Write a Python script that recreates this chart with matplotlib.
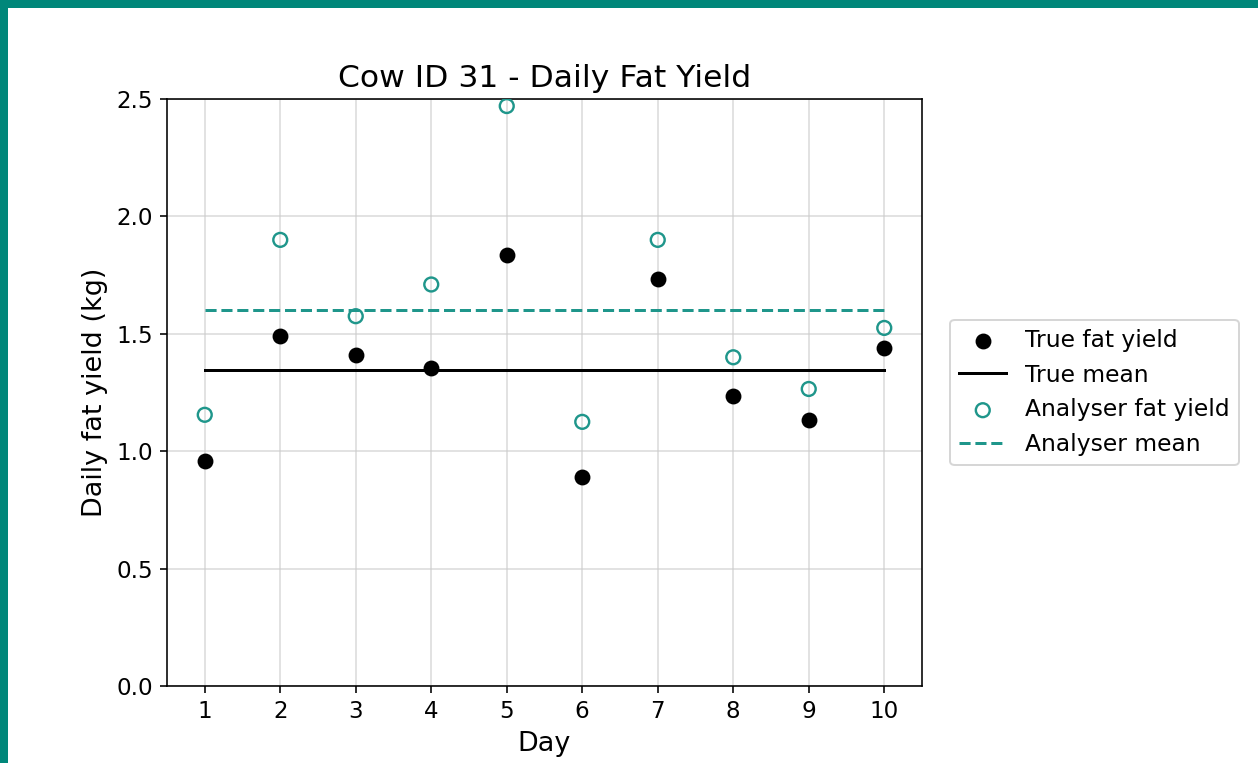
import numpy as np
import matplotlib.pyplot as plt
from matplotlib.patches import Rectangle

days = np.arange(1, 11)
true_fat = [0.958, 1.49, 1.41, 1.354, 1.836, 0.89, 1.733, 1.235, 1.133, 1.44]
analyser_fat = [1.155, 1.90, 1.575, 1.71, 2.47, 1.125, 1.90, 1.40, 1.265, 1.525]

true_mean = np.mean(true_fat)
analyser_mean = np.mean(analyser_fat)

teal = '#1f968b'

fig = plt.figure(figsize=(1258 / 144, 763 / 144), dpi=144)
ax = fig.add_axes([167 / 1258, 1 - 686 / 763, (922 - 167) / 1258, (686 - 99) / 763])

ax.scatter(days, true_fat, color='black', s=48, label='True fat yield', zorder=3)
ax.plot([days[0], days[-1]], [true_mean, true_mean], color='black', label='True mean')
ax.scatter(days, analyser_fat, facecolors='none', edgecolors=teal, s=48,
           linewidths=1.2, label='Analyser fat yield', zorder=3)
ax.plot([days[0], days[-1]], [analyser_mean, analyser_mean], color=teal,
        linestyle='--', label='Analyser mean')

ax.set_xlim(0.5, 10.5)
ax.set_ylim(0, 2.5)
ax.set_xticks(days)
ax.set_yticks([0, 0.5, 1.0, 1.5, 2.0, 2.5])
ax.tick_params(labelsize=11.5)
ax.grid(True, color='#cccccc', alpha=0.7, linewidth=0.8)
ax.set_axisbelow(True)

ax.set_title('Cow ID 31 - Daily Fat Yield', fontsize=15.7)
ax.set_xlabel('Day', fontsize=13.5)
ax.set_ylabel('Daily fat yield (kg)', fontsize=13.5)
ax.legend(loc='center left', bbox_to_anchor=(1.0216, 0.5), fontsize=11.7)

# teal frame strips on top and left edge
fig.patches.append(Rectangle((0, 1 - 7 / 763), 1, 7 / 763, transform=fig.transFigure,
                             color='#00877a', zorder=10))
fig.patches.append(Rectangle((0, 0), 7 / 1258, 1, transform=fig.transFigure,
                             color='#00877a', zorder=10))

fig.savefig('out.png', dpi=144)
